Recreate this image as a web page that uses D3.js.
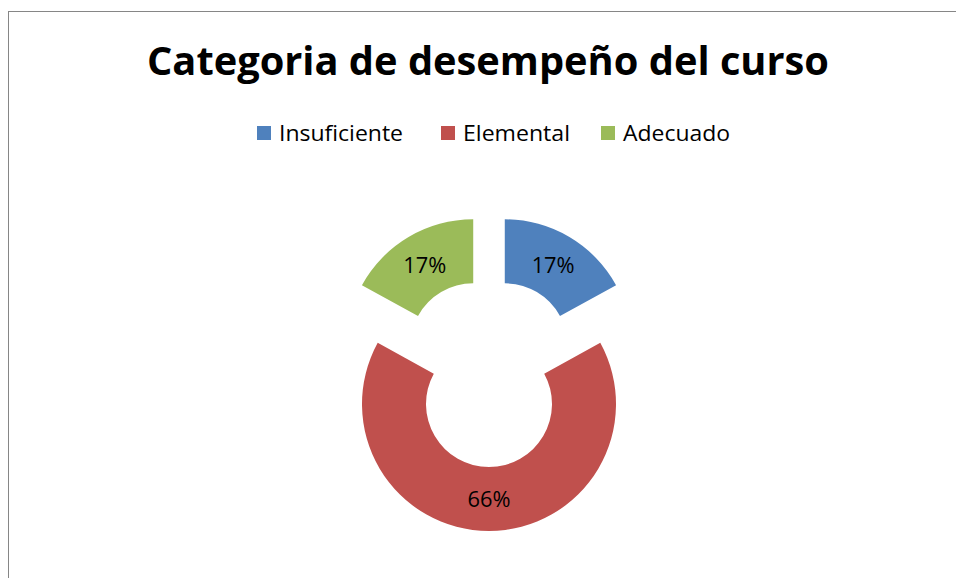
<!DOCTYPE html>
<html>
<head>
<meta charset="utf-8">
<script src="https://cdn.jsdelivr.net/npm/d3@7"></script>
<style>
  html, body { margin: 0; padding: 0; background: #fff; }
  svg { display: block; }
</style>
</head>
<body>
<svg id="chart" width="956" height="578"></svg>
<script>
const title = "Categoria de desempeño del curso";
const categories = ["Insuficiente", "Elemental", "Adecuado"];
const values = [17, 66, 17];
const labels = ["17%", "66%", "17%"];
const colors = ["#4F81BD", "#C0504D", "#9BBB59"];

const svg = d3.select("#chart");
const W = 956, H = 578;
const font = "'Open Sans', 'DejaVu Sans', sans-serif";

// frame
svg.append("rect")
  .attr("x", 8.5).attr("y", 11.5)
  .attr("width", W + 10).attr("height", H + 10)
  .attr("fill", "#fff").attr("stroke", "#868686").attr("stroke-width", 1);

function fitText(sel, width) {
  sel.attr("textLength", width).attr("lengthAdjust", "spacingAndGlyphs");
}

// title
svg.append("text")
  .attr("x", 488).attr("y", 75)
  .attr("text-anchor", "middle")
  .attr("font-family", font).attr("font-weight", "bold")
  .attr("font-size", 39).attr("fill", "#000")
  .text(title)
  .call(fitText, 682);

// legend
const legendX = [257, 441, 601];
const legendTextW = [124, 107, 107];
const legend = svg.append("g");
categories.forEach((c, i) => {
  legend.append("rect")
    .attr("x", legendX[i]).attr("y", 126)
    .attr("width", 14).attr("height", 14)
    .attr("fill", colors[i]);
  legend.append("text")
    .attr("x", legendX[i] + 22).attr("y", 141)
    .attr("font-family", font).attr("font-size", 21)
    .attr("fill", "#000")
    .text(c)
    .call(fitText, legendTextW[i]);
});

// doughnut
const cx = 489, cy = 373, explode = 31;
const rOuter = 127, rInner = 63;
const pie = d3.pie().sort(null).value(d => d)(values);
const arc = d3.arc().innerRadius(rInner).outerRadius(rOuter);

const g = svg.append("g").attr("transform", `translate(${cx},${cy})`);
const slices = g.selectAll("g.slice").data(pie).enter().append("g")
  .attr("class", "slice")
  .attr("transform", d => {
    const m = (d.startAngle + d.endAngle) / 2;
    return `translate(${explode * Math.sin(m)},${-explode * Math.cos(m)})`;
  });
slices.append("path")
  .attr("d", arc)
  .attr("fill", (d, i) => colors[i]);
slices.append("text")
  .attr("transform", d => {
    const c = arc.centroid(d);
    return `translate(${c[0]},${c[1] + 8})`;
  })
  .attr("text-anchor", "middle")
  .attr("font-family", font).attr("font-size", 22)
  .attr("fill", "#000")
  .text((d, i) => labels[i])
  .call(fitText, 43);
</script>
</body>
</html>
